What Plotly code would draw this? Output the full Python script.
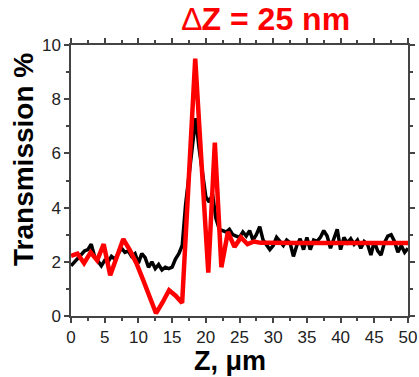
import plotly.graph_objects as go

# Red curve (simulation), sampled every ~0.97 um
z_red = [0.00, 0.97, 1.94, 2.91, 3.88, 4.85, 5.82, 6.79, 7.76, 8.73, 9.70, 10.67,
         11.64, 12.61, 13.58, 14.55, 15.52, 16.49, 17.46, 18.43, 19.40, 20.37,
         21.34, 22.31, 23.28, 24.25, 25.22, 26.19, 27.16, 28.13, 29.10, 30.07,
         31.04, 32.01, 32.98, 33.95, 34.92, 35.89, 36.86, 37.83, 38.80, 39.77,
         40.74, 41.71, 42.68, 43.65, 44.62, 45.59, 46.56, 47.53, 48.50, 49.47, 50.44]
t_red = [2.22, 2.30, 1.95, 2.35, 2.05, 2.65, 1.50, 2.20, 2.84, 2.43, 1.95, 1.35,
         0.70, 0.10, 0.50, 0.95, 0.75, 0.48, 5.00, 9.50, 5.50, 1.60,
         6.40, 1.80, 3.10, 2.55, 2.90, 2.65, 2.75, 2.70, 2.70, 2.69,
         2.69, 2.69, 2.69, 2.69, 2.69, 2.69, 2.69, 2.69, 2.69, 2.69,
         2.69, 2.69, 2.69, 2.69, 2.69, 2.69, 2.69, 2.69, 2.69, 2.69, 2.69]

# Black curve (experiment), sampled every 0.5 um
z_blk = [i * 0.5 for i in range(101)]
t_blk = [1.85, 2.00, 2.10, 2.30, 2.40, 2.45, 2.65, 2.20, 2.00, 1.85,
         2.05, 2.00, 2.20, 2.10, 2.30, 2.50, 2.35, 2.40, 2.20, 2.30,
         1.95, 2.30, 2.15, 1.80, 2.00, 1.75, 1.90, 1.70, 1.80, 1.75,
         1.80, 2.10, 2.30, 2.60, 4.10, 5.20, 6.30, 7.30, 6.20, 5.20,
         4.40, 4.20, 4.50, 3.60, 3.20, 3.15, 3.10, 3.20, 3.00, 2.95,
         2.90, 3.10, 2.95, 3.15, 2.80, 3.00, 3.30, 2.80, 2.60, 2.45,
         2.60, 2.90, 2.75, 2.60, 2.80, 2.70, 2.20, 2.60, 2.85, 2.45,
         2.90, 2.45, 2.80, 2.75, 2.90, 3.15, 2.95, 2.50, 2.85, 3.20,
         2.45, 2.90, 2.70, 2.85, 2.65, 2.80, 2.50, 2.75, 2.65, 2.25,
         2.75, 2.40, 2.25, 2.70, 2.95, 3.00, 2.75, 2.35, 2.60, 2.35, 2.50]

x_ticks = [0, 5, 10, 15, 20, 25, 30, 35, 40, 45, 50]
y_ticks = [0, 2, 4, 6, 8, 10]

fig = go.Figure()
fig.add_trace(go.Scatter(x=z_blk, y=t_blk, mode="lines",
                         line=dict(color="black", width=3.5), showlegend=False))
fig.add_trace(go.Scatter(x=z_red, y=t_red, mode="lines",
                         line=dict(color="#ff0000", width=4.5), showlegend=False))

axis_common = dict(showline=True, linecolor="#444", linewidth=1.5, mirror="ticks",
                   ticks="outside", ticklen=5, tickwidth=1.5, tickcolor="#444",
                   showgrid=False, zeroline=False, automargin=False,
                   tickfont=dict(family="Liberation Sans, Arial", size=17, color="#222"))

fig.update_xaxes(range=[0, 50], tickvals=x_ticks, ticktext=[str(v) for v in x_ticks],
                 minor=dict(ticks="outside", ticklen=3, tickcolor="#444", dtick=2.5, tick0=0),
                 **axis_common)
fig.update_yaxes(range=[0, 10], tickvals=y_ticks, ticktext=[str(v) for v in y_ticks],
                 minor=dict(ticks="outside", ticklen=3, tickcolor="#444", dtick=1, tick0=0),
                 **axis_common)

fig.update_layout(
    width=419, height=377,
    margin=dict(l=71, r=11, t=45, b=61),
    plot_bgcolor="white", paper_bgcolor="white",
    annotations=[
        dict(text="<span style='font-weight:normal'>∆</span><b>Z = 25 nm</b>",
             xref="paper", yref="paper", x=(266 - 71) / 337, y=1 + (45 - 19) / 271,
             xanchor="center", yanchor="middle", showarrow=False,
             font=dict(family="Liberation Sans, Arial", size=32, color="#ff0000")),
        dict(text="<b>Transmission %</b>", textangle=-90,
             xref="paper", yref="paper", x=-(71 - 23) / 337, y=(316 - 160) / 271,
             xanchor="center", yanchor="middle", showarrow=False,
             font=dict(family="Liberation Sans, Arial", size=28, color="black")),
        dict(text="<b>Z, μm</b>",
             xref="paper", yref="paper", x=(230 - 71) / 337, y=-(361 - 316) / 271,
             xanchor="center", yanchor="middle", showarrow=False,
             font=dict(family="Liberation Sans, Arial", size=27, color="black")),
    ],
)

fig.write_html("out.html")
